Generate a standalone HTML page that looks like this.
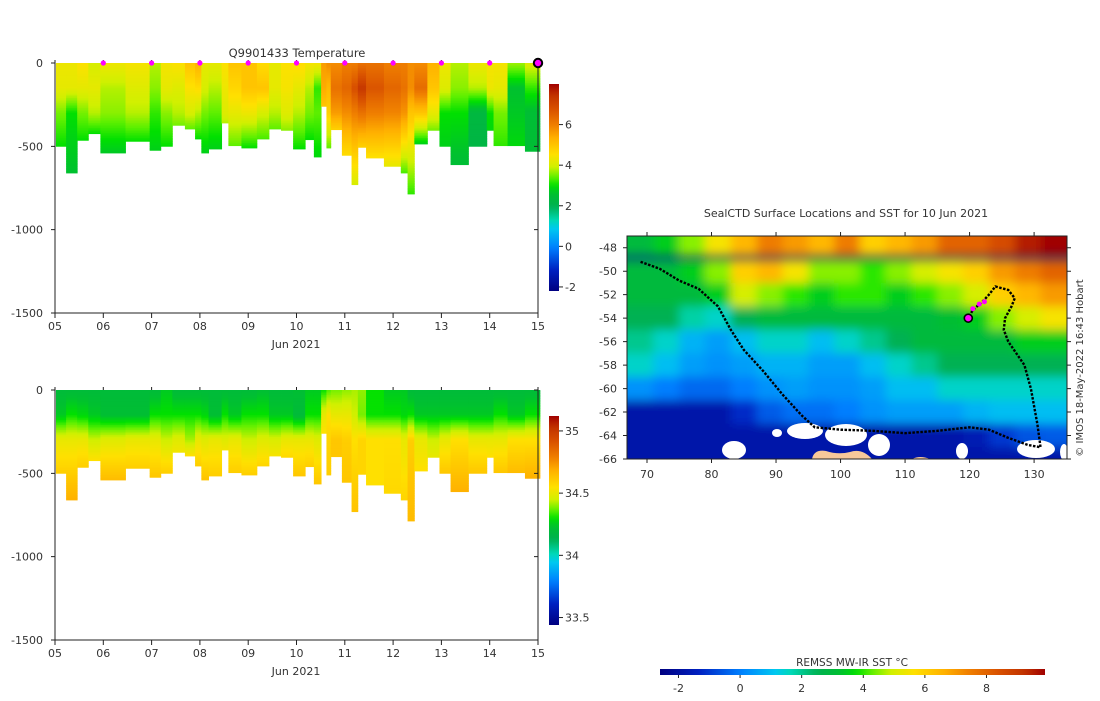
<!DOCTYPE html>
<html><head><meta charset="utf-8">
<style>
html,body{margin:0;padding:0;background:#fff;}
svg text{font-family:"DejaVu Sans","Liberation Sans",sans-serif;fill:#333;}
</style></head>
<body>
<svg id="root" width="1100" height="696" viewBox="0 0 1100 696" xmlns="http://www.w3.org/2000/svg">
<defs>
  <clipPath id="mapclip"><rect x="627" y="236" width="440" height="223"/></clipPath>
  <filter id="blur" filterUnits="userSpaceOnUse" x="590" y="200" width="520" height="300"><feGaussianBlur stdDeviation="5"/></filter>
  <linearGradient id="cbv" x1="0" y1="1" x2="0" y2="0"></linearGradient>
  <linearGradient id="cbh" x1="0" y1="0" x2="1" y2="0"></linearGradient>
</defs>
<g id="tempPlot"></g>
<g id="salPlot"></g>
<g id="mapPlot"></g>
</svg>
<script>
// ---- profile data ----
const profileEdges = [5.02,5.23,5.46,5.69,5.94,6.46,6.96,7.19,7.43,7.69,7.90,8.03,8.18,8.45,8.59,8.86,9.18,9.43,9.68,9.93,10.18,10.36,10.51,10.62,10.71,10.94,11.14,11.27,11.44,11.81,12.16,12.30,12.44,12.71,12.96,13.19,13.56,13.94,14.08,14.37,14.73,15.04];
const profileBottom = [500,660,464,424,540,470,524,500,374,396,456,540,516,360,496,510,456,396,404,516,460,564,260,510,400,554,730,506,570,620,660,786,486,404,500,610,500,404,496,496,530];
const levelDepths = [0,150,300];
const tempSurface = [4.3,4.3,4.5,4.0,4.3,4.4,3.8,4.4,4.5,5.0,5.3,4.2,4.2,4.5,5.0,5.0,4.6,4.2,4.5,4.6,4.4,4.4,5.6,5.8,5.8,6.0,6.0,6.2,6.2,6.0,6.0,5.8,5.8,5.3,4.3,3.8,4.3,4.4,4.4,3.7,4.1];
const temp150 = [4.2,4.2,4.2,4.2,3.8,4.1,3.6,4.2,4.1,4.5,4.6,4.0,3.8,4.3,4.7,5.0,5.0,4.2,4.4,4.2,3.8,3.2,5.4,5.2,6.2,6.4,6.8,7.3,6.7,6.4,6.2,5.8,6.3,5.0,4.1,3.6,3.8,4.3,4.2,2.6,3.2];
const temp300 = [3.5,3.0,3.5,3.8,3.6,3.8,3.2,3.6,3.8,4.0,3.8,3.5,3.4,4.1,4.2,4.3,4.0,3.8,4.1,3.8,3.5,3.4,5.0,4.8,5.6,5.8,6.0,6.2,6.0,5.9,5.7,5.0,5.0,4.2,3.0,3.0,2.3,3.0,3.5,2.7,2.5];
const tempBottom = [3.0,2.6,3.0,3.0,2.7,3.0,2.8,3.0,3.5,3.4,3.0,2.8,2.8,3.8,3.4,3.0,3.3,3.4,3.6,3.0,3.0,2.9,5.0,3.4,4.8,4.6,4.0,4.8,4.5,4.2,3.3,3.2,2.8,3.5,2.8,2.5,2.2,2.9,3.2,2.9,2.5];
const salSurface = [34.2,34.2,34.2,34.2,34.2,34.2,34.2,34.25,34.2,34.2,34.2,34.2,34.2,34.2,34.2,34.2,34.22,34.2,34.2,34.22,34.25,34.25,34.3,34.35,34.38,34.4,34.42,34.4,34.3,34.25,34.25,34.2,34.2,34.2,34.2,34.2,34.2,34.2,34.2,34.2,34.2];
const sal150 = [34.25,34.3,34.28,34.25,34.22,34.22,34.3,34.3,34.3,34.3,34.3,34.28,34.22,34.3,34.25,34.3,34.3,34.25,34.25,34.2,34.3,34.3,34.5,34.55,34.5,34.5,34.45,34.38,34.3,34.3,34.28,34.3,34.25,34.25,34.25,34.25,34.25,34.25,34.3,34.25,34.3];
const sal300 = [34.5,34.5,34.5,34.45,34.48,34.5,34.5,34.45,34.48,34.42,34.5,34.48,34.5,34.48,34.5,34.45,34.48,34.47,34.5,34.5,34.5,34.48,34.55,34.58,34.62,34.6,34.55,34.58,34.55,34.55,34.5,34.6,34.5,34.45,34.5,34.55,34.5,34.5,34.5,34.55,34.55];
const salBottom = [34.6,34.68,34.6,34.55,34.65,34.6,34.62,34.6,34.52,34.55,34.6,34.63,34.6,34.52,34.6,34.6,34.58,34.53,34.57,34.62,34.6,34.62,34.55,34.6,34.62,34.62,34.63,34.58,34.55,34.57,34.58,34.65,34.55,34.5,34.62,34.68,34.62,34.55,34.62,34.65,34.68];
const surfaceDays = [6,7,8,9,10,11,12,13,14];
const xTickLabels = ["05","06","07","08","09","10","11","12","13","14","15"];
const depthTicks = [0,-500,-1000,-1500];
const tempCbTicks = [-2,0,2,4,6];
const salCbTicks = [33.5,34,34.5,35];

// ---- map data ----
const sstLons = [69,73,77,81,85,89,93,97,101,105,109,113,117,121,125,129,133];
const sstLats = [-48,-50,-52,-54,-56,-58,-60,-62,-64,-66];
const sstRows = [
 [3,3.5,4.5,5.5,6.5,7.5,7,6.5,7.5,6,6.5,7,8,8,8.5,9.5,10],
 [3,3,3.5,4.5,6,6.5,5.5,4.5,4.5,4,4.5,5,5.5,6,7,7.5,8],
 [3,3,3,3.5,5,4.5,4,3.5,4,4,3.5,4,4.5,5,6,6.5,7],
 [2.5,2.5,1.8,1.5,2.5,3,3,3,3,3,3,3,3.2,3.5,4.5,5,5.5],
 [2,1.5,0.8,0.5,1,1.5,1.5,1,1.5,2,2.5,3,3,3,3,3.5,3.5],
 [1.5,1,0.5,0.3,0.5,0.8,0.8,0.5,0.5,1,1.5,2,2.5,2.5,2.5,2.5,2.5],
 [0.3,0,-0.3,-0.3,0,0.3,0.5,0.3,0.3,0.5,1,1,1.5,1.5,1.5,1.5,1.5],
 [-1.8,-1.8,-1.8,-1.8,-1.2,-0.5,-0.2,-0.2,0,0.3,0.5,0.5,0.5,0.8,1,1,1],
 [-1.8,-1.8,-1.8,-1.8,-1.8,-1.8,-1.8,-1.8,-1.8,-1.8,-1.8,-1.8,-1.8,-1.6,-1,-0.6,-0.5],
 [-1.8,-1.8,-1.8,-1.8,-1.8,-1.8,-1.8,-1.8,-1.8,-1.8,-1.8,-1.8,-1.8,-1.8,-1.8,-1.8,-1.8]
];
const trackLon = [69,72,75,78,81,83,85,88,91,94,96,100,105,110,115,120,123,126,129,131,130.5,129.5,128.5,126,125.3,125.5,126.5,127,126,124,123,122,120.5,119.8];
const trackLat = [-49.2,-49.8,-50.8,-51.5,-53,-55,-56.7,-58.5,-60.5,-62.3,-63.3,-63.5,-63.6,-63.8,-63.6,-63.3,-63.5,-64.2,-64.8,-65,-63,-60,-58,-56,-55,-54,-53,-52.3,-51.6,-51.3,-52,-52.6,-53.3,-54];
const recentLon = [120.5,121.5,122.3];
const recentLat = [-53.2,-52.8,-52.6];
const latTicks = [-48,-50,-52,-54,-56,-58,-60,-62,-64,-66];
const lonTicks = [70,80,90,100,110,120,130];
const sstCbTicks = [-2,0,2,4,6,8];

const NS="http://www.w3.org/2000/svg";
const stops=[[0,[0,0,128]],[0.1,[0,32,192]],[0.21,[0,128,255]],[0.30,[0,200,240]],[0.34,[0,216,184]],[0.41,[0,176,80]],[0.47,[0,192,48]],[0.51,[0,224,0]],[0.55,[96,240,0]],[0.60,[208,240,0]],[0.66,[255,224,0]],[0.74,[255,176,0]],[0.80,[240,128,0]],[0.88,[216,80,0]],[0.95,[192,48,0]],[1,[160,0,0]]];
function cmap(f){f=Math.max(0,Math.min(1,f));for(let i=1;i<stops.length;i++){if(f<=stops[i][0]){const a=stops[i-1],b=stops[i];const t=(f-a[0])/(b[0]-a[0]);const c=a[1].map((v,k)=>Math.round(v+(b[1][k]-v)*t));return `rgb(${c[0]},${c[1]},${c[2]})`;}}return 'rgb(160,0,0)';}
function el(tag,attrs,parent,text){const e=document.createElementNS(NS,tag);for(const k in attrs)e.setAttribute(k,attrs[k]);if(text!==undefined)e.textContent=text;parent.appendChild(e);return e;}
['cbv','cbh'].forEach(id=>{const g=document.getElementById(id);for(let i=0;i<=50;i++){el('stop',{offset:(i/50),'stop-color':cmap(i/50)},g);}});

function interp(d,depths,vals){if(d<=depths[0])return vals[0];for(let i=1;i<depths.length;i++){if(d<=depths[i]){const t=(d-depths[i-1])/(depths[i]-depths[i-1]);return vals[i-1]+(vals[i]-vals[i-1])*t;}}return vals[vals.length-1];}

function section(gid,y0,vmin,vmax,surf,v150,v300,vbot,cb,cbTicks,cbY0,cbY1,fmt,showDots,titleText){
  const g=document.getElementById(gid);
  const X0=55,X1=538,H=250;
  const xs=d=>X0+(d-5)*(X1-X0)/10;
  const ys=z=>y0+z*H/1500;
  if(titleText){const t=el('text',{x:297,y:y0-6,'font-size':11.5,'text-anchor':'middle'},g,titleText);}
  for(let i=0;i<profileBottom.length;i++){
    const bot=profileBottom[i];
    const depths=[0,150,Math.min(300,bot-1),Math.max(bot,301)];
    const vals=[surf[i],v150[i],v300[i],vbot[i]];
    const col=el('g',{},g);
    
    
    const xa=xs(profileEdges[i]),xb=xs(profileEdges[i+1]);
    for(let d=0;d<bot;d+=10){
      const v=interp(d+5,depths,vals);
      el('rect',{x:xa,y:ys(d),width:xb-xa+0.4,height:ys(Math.min(d+10,bot))-ys(d)+0.4,fill:cmap((v-vmin)/(vmax-vmin))},col);
    }
  }
  const ax=el('g',{stroke:'#222','stroke-width':1,fill:'none'},g);
  
  
  el('path',{d:`M${X0},${y0} V${y0+H} H${X1} V${y0}`},ax);
  depthTicks.forEach(t=>{const y=ys(-t);el('path',{d:`M${X0-4},${y}H${X0} M${X1-4},${y}H${X1}`},ax);
    const l=el('text',{x:X0-12,y:y+4,'font-size':11,'text-anchor':'end'},g,String(t));});
  xTickLabels.forEach((s,i)=>{const x=xs(5+i);el('path',{d:`M${x},${y0+H}v5 M${x},${y0}v-3`},ax);
    const l=el('text',{x:x,y:y0+H+17,'font-size':11,'text-anchor':'middle'},g,s);});
  const xt=el('text',{x:296,y:y0+H+35,'font-size':11,'text-anchor':'middle'},g,'Jun 2021');
  if(showDots){surfaceDays.forEach(d=>{const c=el('circle',{cx:xs(d),cy:y0,r:2.6,fill:'#ff00ff'},g);});
    const c=el('circle',{cx:xs(15),cy:y0,r:4.2,fill:'#ff00ff',stroke:'#000','stroke-width':2},g);}
  const cbg=el('g',{},g);
  el('rect',{x:549,y:cbY0,width:10,height:cbY1-cbY0,fill:'url(#cbv)'},cbg);
  cbTicks.forEach(t=>{const y=cbY1-(t-cb[0])/(cb[1]-cb[0])*(cbY1-cbY0);el('path',{d:`M559,${y}h4`,stroke:'#222'},cbg);
    const l=el('text',{x:565,y:y+4,'font-size':11},cbg,fmt(t));});
}
section('tempPlot',63,-2.2,8,tempSurface,temp150,temp300,tempBottom,[-2.2,8],tempCbTicks,84,291,t=>String(t),true,'Q9901433  Temperature');
section('salPlot',390,33.44,35.12,salSurface,sal150,sal300,salBottom,[33.44,35.12],salCbTicks,416,625,t=>String(t),false,null);

// ---- map ----
(function(){
  const g=document.getElementById('mapPlot');
  const L0=66.9,L1=135.1,A0=-47.0,A1=-66.0,MX0=627,MX1=1067,MY0=236,MY1=459;
  const lx=l=>MX0+(l-L0)*(MX1-MX0)/(L1-L0);
  const ay=a=>MY0+(a-A0)*(MY1-MY0)/(A1-A0);
  const smin=-2.6,smax=9.9;
  const t=el('text',{x:846,y:217,'font-size':11,'text-anchor':'middle'},g,'SealCTD Surface Locations and SST for 10 Jun 2021');
  
  const clip=el('g',{'clip-path':'url(#mapclip)'},g);
  el('rect',{x:MX0,y:MY0,width:MX1-MX0,height:MY1-MY0,fill:cmap((-1.8-smin)/(smax-smin))},clip);
  const cells=el('g',{filter:'url(#blur)'},clip);
  sstRows.forEach((row,r)=>row.forEach((v,c)=>{
    const x=lx(sstLons[c]-2-(c===0?3:0)),y=ay(sstLats[r]+1+(r===0?2:0));
    const w=lx(4)-lx(0)+(c===0||c===row.length-1?20:0.5);
    const h=ay(-2)-ay(0)+(r===0||r===sstRows.length-1?20:0.5);
    const rc=el('rect',{x:x,y:y,width:w,height:h,fill:cmap((v-smin)/(smax-smin))},cells);
    
    
  }));
  const ice=el('g',{fill:'#fff'},clip);
  [[777,433,5,4],[805,431,18,8],[846,435,21,11],[879,445,11,11],[734,450,12,9],[962,451,6,8],[1036,449,19,9],[1064,452,4,8]].forEach(e=>el('ellipse',{cx:e[0],cy:e[1],rx:e[2],ry:e[3]},ice));
  const land=el('g',{fill:'#f7c89a'},clip);
  el('path',{d:'M812,459 Q814,449 826,451 Q838,455 850,452 Q862,448 872,459 Z M912,459 Q920,455 930,459Z'},land);
  let d='';trackLon.forEach((l,i)=>{d+=(i?'L':'M')+lx(l)+','+ay(trackLat[i]);});
  const tr=el('path',{d:d,fill:'none',stroke:'#000','stroke-width':2.4,'stroke-dasharray':'2.5 1.5'},clip);
  
  recentLon.forEach((l,i)=>{const c=el('circle',{cx:lx(l),cy:ay(recentLat[i]),r:2.5,fill:'#ff00ff'},clip);});
  const cur=el('circle',{cx:lx(119.8),cy:ay(-54),r:4,fill:'#ff00ff',stroke:'#000','stroke-width':1.6},clip);
  
  const ax=el('g',{stroke:'#222',fill:'none'},g);
  el('rect',{x:MX0,y:MY0,width:MX1-MX0,height:MY1-MY0},ax);
  latTicks.forEach(a=>{const y=ay(a);el('path',{d:`M${MX0-4},${y}h4 M${MX1},${y}h4`},ax);
    const l=el('text',{x:MX0-10,y:y+4,'font-size':11,'text-anchor':'end'},g,String(a));});
  lonTicks.forEach(o=>{const x=lx(o);el('path',{d:`M${x},${MY1}v4 M${x},${MY0}v-4`},ax);
    const l=el('text',{x:x,y:MY1+19,'font-size':11,'text-anchor':'middle'},g,String(o));});
  const cp=el('text',{x:0,y:0,'font-size':10,'text-anchor':'middle',transform:'translate(1083,368) rotate(-90)'},g,'© IMOS 18-May-2022 16:43 Hobart');
  
  const cb=el('g',{},g);
  const ct=el('text',{x:852,y:666,'font-size':10.5,'text-anchor':'middle'},cb,'REMSS MW-IR SST °C');
  el('rect',{x:660,y:669,width:385,height:6,fill:'url(#cbh)'},cb);
  sstCbTicks.forEach(v=>{const x=660+(v-smin)/(smax-smin)*385;el('path',{d:`M${x},675v3`,stroke:'#222'},cb);
    const l=el('text',{x:x,y:692,'font-size':11,'text-anchor':'middle'},cb,String(v));});
})();
</script>
</body></html>
